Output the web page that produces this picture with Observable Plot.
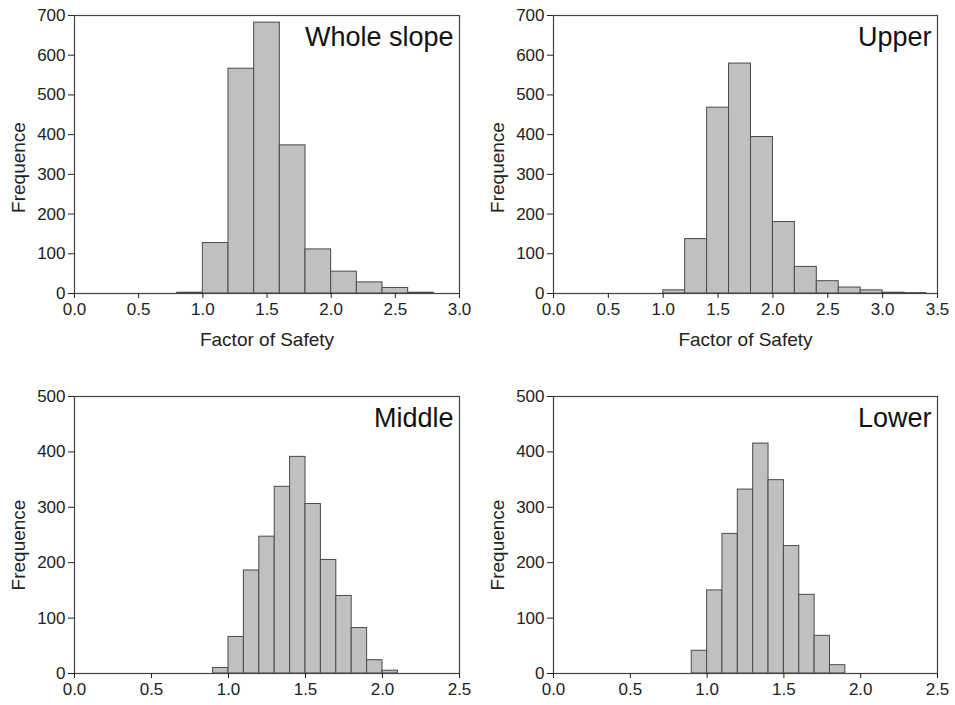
<!DOCTYPE html>
<html><head><meta charset="utf-8">
<script src="https://cdn.jsdelivr.net/npm/d3@7"></script>
<script src="https://cdn.jsdelivr.net/npm/@observablehq/plot@0.6"></script>
<style>
body{margin:0;background:#fff;}
#wrap{position:relative;width:955px;height:705px;font-family:"Liberation Sans",Arial,sans-serif;}
.panel{position:absolute;}
.panel g[aria-label="x-axis tick label"] text, .panel g[aria-label="y-axis tick label"] text{font-size:17px;}
</style></head><body><div id="wrap"></div>
<script>
// Data (bin lower edges and counts)
const wholeStarts = [0.8, 1.0, 1.2, 1.4, 1.6, 1.8, 2.0, 2.2, 2.4, 2.6];
const wholeCounts = [2, 127, 566, 682, 373, 111, 55, 28, 14, 2];
const upperStarts = [1.0, 1.2, 1.4, 1.6, 1.8, 2.0, 2.2, 2.4, 2.6, 2.8, 3.0, 3.2];
const upperCounts = [8, 137, 468, 579, 394, 180, 67, 31, 15, 8, 2, 1];
const middleStarts = [0.9, 1.0, 1.1, 1.2, 1.3, 1.4, 1.5, 1.6, 1.7, 1.8, 1.9, 2.0];
const middleCounts = [10, 66, 186, 247, 337, 391, 306, 205, 140, 82, 24, 5];
const lowerStarts = [0.9, 1.0, 1.1, 1.2, 1.3, 1.4, 1.5, 1.6, 1.7, 1.8];
const lowerCounts = [41, 150, 252, 332, 415, 349, 230, 142, 68, 15];
const titles = ["Whole slope", "Upper", "Middle", "Lower"];
const binWidths = [0.2, 0.2, 0.1, 0.1];
const xMaxes = [3.0, 3.5, 2.5, 2.5];
const yMaxes = [700, 700, 500, 500];
const xLabel = "Factor of Safety";
const yLabel = "Frequence";

const series = [
  [wholeStarts, wholeCounts], [upperStarts, upperCounts],
  [middleStarts, middleCounts], [lowerStarts, lowerCounts]
];
const layout = [
  {left: 0, top: 0, w: 477, h: 352, mt: 15, mb: 59, xl: true, ydy: 13},
  {left: 479, top: 0, w: 476, h: 352, mt: 15, mb: 59, xl: true, ydy: 13},
  {left: 0, top: 352, w: 477, h: 353, mt: 44, mb: 32, xl: false, ydy: 10},
  {left: 479, top: 352, w: 476, h: 353, mt: 44, mb: 32, xl: false, ydy: 10}
];
const wrap = document.getElementById("wrap");
series.forEach(([starts, counts], i) => {
  const bw = binWidths[i];
  const data = starts.map((s, j) => ({x1: s, x2: +(s + bw).toFixed(2), count: counts[j]}));
  const L = layout[i];
  const xt = d3.range(0, xMaxes[i] + 0.01, 0.5);
  const yt = d3.range(0, yMaxes[i] + 1, 100);
  const marks = [
    Plot.rectY(data, {x1: "x1", x2: "x2", y: "count", fill: "#c0c0c0", stroke: "#4a4a4a", strokeWidth: 1}),
    Plot.frame({stroke: "#444", strokeWidth: 1.2}),
    Plot.axisX({ticks: xt, tickFormat: d => d.toFixed(1), tickSize: 5, tickPadding: 4, label: null}),
    Plot.axisY({ticks: yt, tickFormat: d => String(d), tickSize: 6, tickPadding: 3, label: null}),
    Plot.text([yLabel], {frameAnchor: "left", rotate: -90, dx: -56, dy: L.ydy, textAnchor: "middle", fontSize: 19, fill: "#222", text: d => d}),
    Plot.text([titles[i]], {frameAnchor: "top-right", dx: -6, dy: 11, fontSize: 27, fill: "#111", text: d => d})
  ];
  if (L.xl) marks.push(Plot.text([xLabel], {frameAnchor: "bottom", dy: 52, textAnchor: "middle", fontSize: 19, fill: "#222", text: d => d}));
  const chart = Plot.plot({
    width: L.w, height: L.h,
    marginLeft: 74, marginRight: 18, marginTop: L.mt, marginBottom: L.mb,
    style: {fontFamily: "Liberation Sans, Arial, sans-serif", fontSize: "17px", color: "#222", background: "transparent", overflow: "visible"},
    x: {domain: [0, xMaxes[i]]},
    y: {domain: [0, yMaxes[i]]},
    marks
  });
  chart.classList.add("panel");
  chart.style.left = L.left + "px";
  chart.style.top = L.top + "px";
  wrap.appendChild(chart);
});
</script>
</body></html>
